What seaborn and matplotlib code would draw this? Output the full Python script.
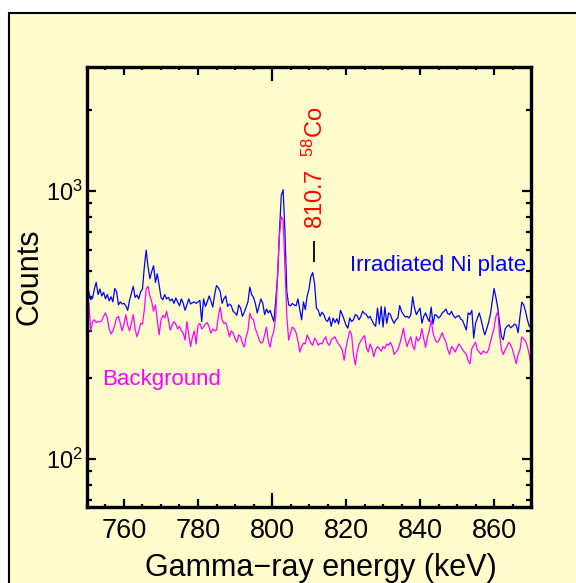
import numpy as np
import pandas as pd
import matplotlib
matplotlib.use("Agg")
import matplotlib.pyplot as plt
from matplotlib.patches import Rectangle
from matplotlib.ticker import FixedLocator, LogLocator, NullFormatter
import seaborn as sns

# ---------------- data ----------------
energy_start, energy_stop, energy_step = 750.0, 870.0, 0.5
energy = np.arange(energy_start, energy_stop + energy_step / 2, energy_step)

irradiated = [
    # 750-760
    440, 420, 392, 398, 430, 455, 410, 430, 405, 418, 395, 410, 388, 402, 385, 432, 420, 375, 385, 378,
    # 760-770
    380, 372, 358, 390, 415, 440, 400, 408, 395, 420, 430, 520, 600, 520, 470, 500, 525, 455, 490, 445,
    # 770-780
    400, 392, 410, 395, 400, 388, 395, 380, 398, 385, 372, 395, 380, 358, 375, 395, 378, 382, 385, 380,
    # 780-790
    385, 390, 325, 395, 370, 385, 405, 388, 368, 410, 443, 435, 420, 380, 395, 405, 370, 378, 372, 355,
    # 790-800
    350, 343, 375, 365, 340, 352, 368, 385, 437, 410, 400, 380, 350, 372, 395, 380, 345, 362, 350, 358,
    # 800-810
    340, 325, 390, 480, 700, 960, 1010, 700, 420, 375, 372, 380, 375, 372, 395, 360, 330, 385, 360, 405,
    # 810-820
    430, 480, 495, 450, 365, 358, 340, 352, 345, 330, 325, 338, 312, 335, 322, 333, 318, 358, 345, 330,
    # 820-830
    315, 307, 335, 325, 330, 345, 342, 330, 340, 355, 348, 345, 335, 340, 328, 318, 312, 365, 318, 370,
    # 830-840
    310, 368, 320, 350, 345, 330, 320, 330, 335, 373, 355, 345, 338, 340, 335, 345, 402, 365, 345, 355,
    # 840-850
    365, 320, 340, 350, 335, 325, 368, 318, 345, 342, 335, 340, 350, 355, 362, 348, 345, 355, 342, 335,
    # 850-860
    340, 342, 332, 328, 315, 302, 350, 345, 358, 282, 320, 335, 350, 330, 307, 290, 305, 322, 345, 385,
    # 860-870
    432, 400, 365, 320, 285, 278, 305, 312, 316, 308, 312, 318, 315, 295, 340, 384, 375, 355, 330, 312, 308,
]

background = [
    # 750-760
    355, 385, 300, 325, 330, 322, 325, 324, 328, 340, 350, 335, 305, 292, 300, 315, 335, 340, 320, 300,
    # 760-770
    318, 345, 315, 300, 320, 345, 305, 285, 300, 320, 318, 360, 430, 440, 405, 385, 355, 375, 330, 290,
    # 770-780
    330, 343, 335, 355, 330, 302, 315, 325, 318, 305, 312, 300, 295, 277, 325, 290, 262, 285, 300, 268,
    # 780-790
    315, 320, 305, 310, 318, 322, 310, 294, 305, 300, 302, 340, 368, 330, 320, 322, 305, 285, 300, 294,
    # 790-800
    280, 272, 290, 285, 270, 261, 285, 300, 349, 335, 330, 305, 294, 278, 270, 272, 290, 310, 275, 261,
    # 800-810
    285, 300, 340, 480, 680, 800, 780, 520, 340, 277, 295, 310, 305, 295, 275, 250, 262, 270, 268, 290,
    # 810-820
    280, 270, 265, 282, 275, 265, 270, 268, 278, 285, 270, 265, 278, 282, 285, 275, 268, 262, 254, 233,
    # 820-830
    260, 280, 300, 290, 245, 224, 250, 268, 275, 282, 288, 260, 250, 268, 258, 240, 255, 262, 258, 252,
    # 830-840
    262, 258, 268, 265, 272, 262, 245, 250, 255, 268, 285, 307, 280, 262, 275, 285, 265, 255, 285, 275,
    # 840-850
    282, 306, 280, 260, 285, 300, 329, 295, 280, 272, 275, 285, 295, 282, 272, 255, 245, 262, 258, 250,
    # 850-860
    260, 268, 262, 255, 250, 245, 232, 226, 258, 265, 272, 255, 250, 245, 252, 250, 248, 255, 272, 290,
    # 860-870
    307, 340, 353, 290, 255, 245, 255, 262, 272, 265, 255, 240, 226, 245, 255, 285, 280, 275, 262, 245, 222,
]

series_names = ["Irradiated Ni plate", "Background"]
series_colors = ["#0000FF", "#FF00FF"]

x_ticks = [760, 780, 800, 820, 840, 860]
x_lim = (750, 870)
y_lim = (66, 2900)

peak_energy = 810.7
peak_label = r"810.7  $^{58}$Co"

# ---------------- style ----------------
sns.set_style("ticks")
plt.rcParams["font.family"] = ["Liberation Sans", "DejaVu Sans"]
plt.rcParams["mathtext.fontset"] = "custom"
plt.rcParams["mathtext.rm"] = "Liberation Sans"
plt.rcParams["mathtext.it"] = "Liberation Sans:italic"
plt.rcParams["mathtext.bf"] = "Liberation Sans:bold"
plt.rcParams["text.color"] = "black"
plt.rcParams["axes.labelcolor"] = "black"
plt.rcParams["xtick.color"] = "black"
plt.rcParams["ytick.color"] = "black"
plt.rcParams["xtick.labelcolor"] = "black"
plt.rcParams["ytick.labelcolor"] = "black"

panel_color = "#FFFCCC"

df = pd.DataFrame({
    "energy": np.concatenate([energy, energy]),
    "counts": np.concatenate([irradiated, background]),
    "series": [series_names[0]] * len(energy) + [series_names[1]] * len(energy),
})

fig = plt.figure(figsize=(5.76, 5.83), dpi=100)
fig.patch.set_facecolor("white")
fig.patches.append(Rectangle((9 / 576, -0.1), 1.2, 0.9777 + 0.1, transform=fig.transFigure,
                             facecolor=panel_color, edgecolor="black", linewidth=1.5, zorder=-5))

ax = fig.add_axes([0.151, 0.1304, 0.771, 0.7547])
ax.set_facecolor(panel_color)

sns.lineplot(data=df, x="energy", y="counts", hue="series", hue_order=series_names,
             palette=series_colors, estimator=None, linewidth=0.9, legend=False, ax=ax,
             sort=False)

ax.set_yscale("log")
ax.set_xlim(*x_lim)
ax.set_ylim(*y_lim)

ax.xaxis.set_major_locator(FixedLocator(x_ticks))
ax.xaxis.set_minor_locator(FixedLocator(np.arange(750, 871, 5)))
ax.yaxis.set_major_locator(LogLocator(base=10, numticks=10))
ax.yaxis.set_minor_locator(LogLocator(base=10, subs=np.arange(2, 10), numticks=20))
ax.yaxis.set_minor_formatter(NullFormatter())

for s in ax.spines.values():
    s.set_linewidth(2.4)
    s.set_color("black")

ax.tick_params(axis="x", which="major", direction="in", length=5.5, width=1.6,
               top=True, bottom=True, labelsize=19.5, pad=8, colors="black")
ax.tick_params(axis="x", which="minor", direction="in", length=2.2, width=1.6,
               top=True, bottom=True, colors="black")
ax.tick_params(axis="y", which="major", direction="in", length=6.5, width=1.6,
               left=True, right=True, labelsize=17, pad=3, colors="black")
ax.tick_params(axis="y", which="minor", direction="in", length=3.6, width=1.6,
               left=True, right=True, colors="black")

ax.set_xlabel("Gamma\u2212ray energy (keV)", fontsize=22, color="black")
ax.set_ylabel("Counts", fontsize=22, color="black")
ax.xaxis.set_label_coords(0.527, -0.105)
ax.yaxis.set_label_coords(-0.095, 0.523)

# longer tick at 800 keV
for val, tick in zip(x_ticks, ax.xaxis.get_major_ticks()):
    if val == 800:
        tick.tick1line.set_markersize(10)
        tick.tick2line.set_markersize(10)

# annotations
ax.text(821.2, 526, series_names[0], color=series_colors[0], fontsize=16,
        ha="left", va="center")
ax.text(754.2, 197, series_names[1], color=series_colors[1], fontsize=16,
        ha="left", va="center")
ax.vlines(peak_energy + 0.7, 540, 650, color="black", linewidth=1.3)
ax.text(peak_energy + 1.1, 720, peak_label, color="red", fontsize=17,
        rotation=90, ha="center", va="bottom")

fig.savefig("out.png", dpi=100, facecolor=fig.get_facecolor())
